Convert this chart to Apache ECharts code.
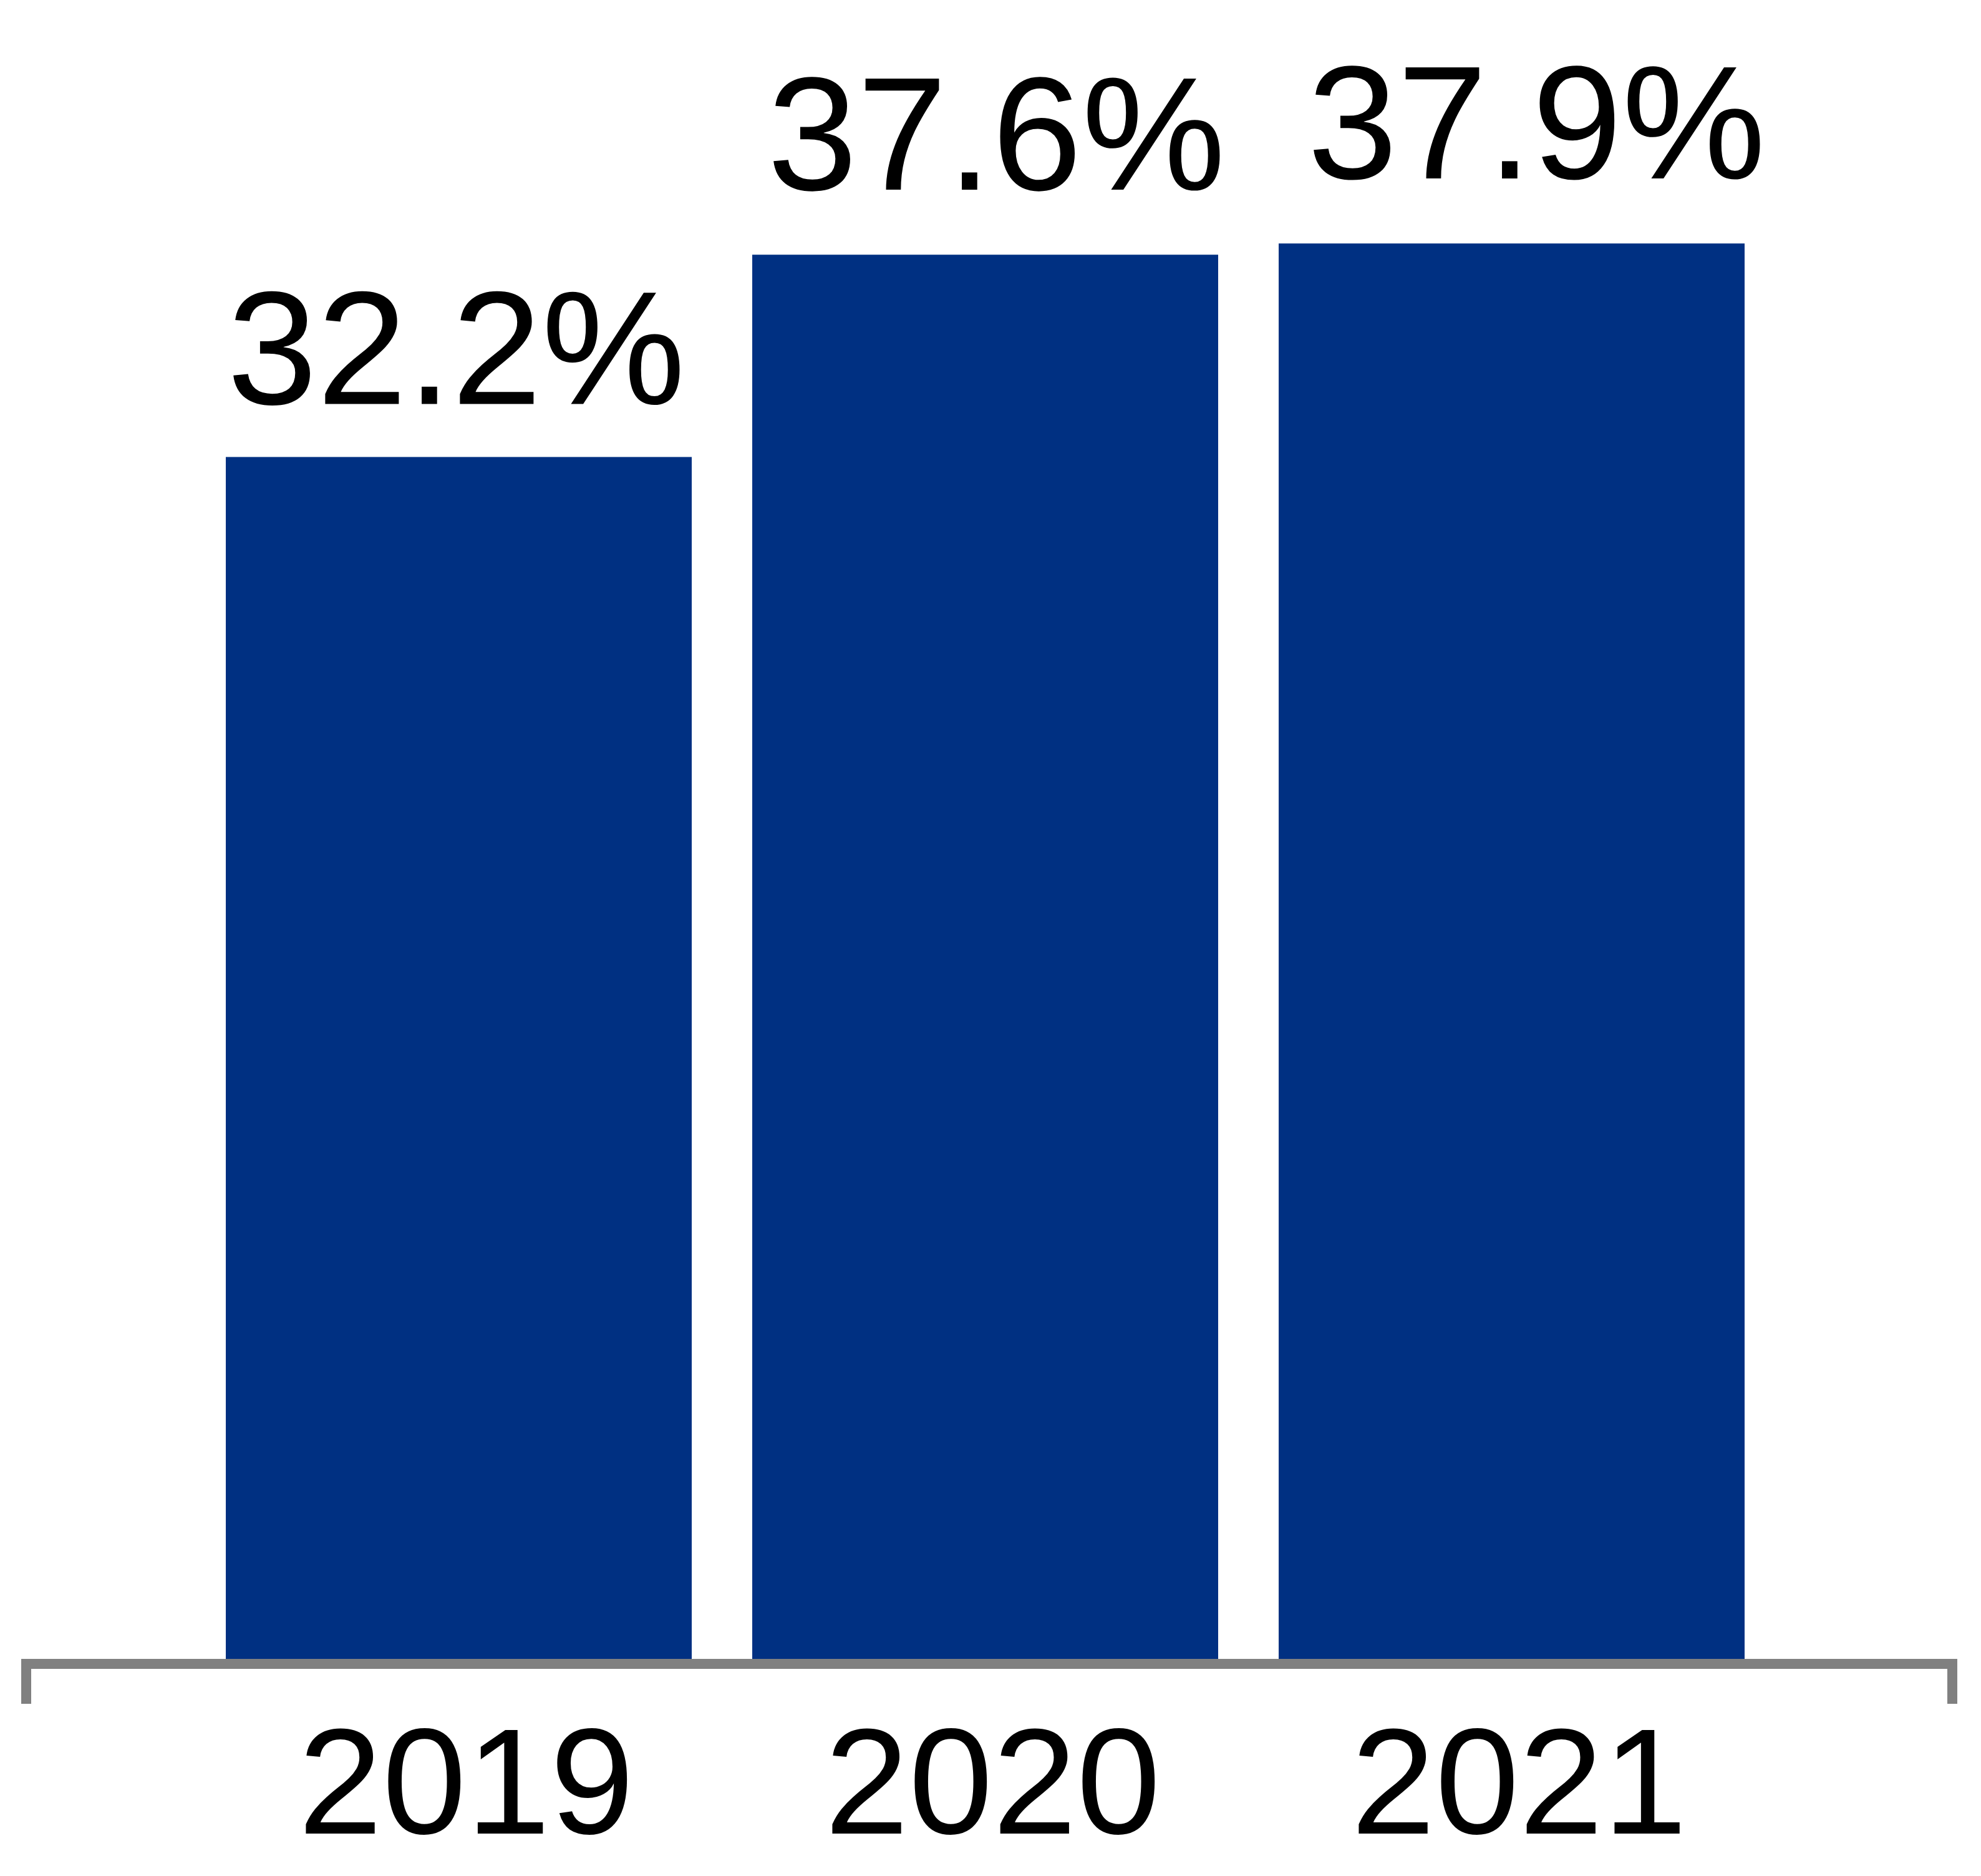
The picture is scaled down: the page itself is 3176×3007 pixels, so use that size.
<!DOCTYPE html>
<html>
<head>
<meta charset="utf-8">
<script src="https://cdn.jsdelivr.net/npm/echarts@6/dist/echarts.min.js"></script>
<style>
  html, body { margin: 0; padding: 0; background: #ffffff; }
  #chart { width: 3176px; height: 3007px; }
</style>
</head>
<body>
<div id="chart"></div>
<script>
const years = ['2019', '2020', '2021'];
const shares = [32.2, 37.6, 37.9];

const chart = echarts.init(document.getElementById('chart'), null, { renderer: 'canvas' });
const FONT = "'Liberation Sans', Arial, sans-serif";
const labelTweak = [
  { distance: 27, offset: [-4, 0] },
  { distance: 46, offset: [18, 0] },
  { distance: 46, offset: [40, 0] }
];

const option = {
  backgroundColor: '#ffffff',
  animation: false,
  grid: [
    { left: 313.5, right: 330.5, top: 264, bottom: 340, containLabel: false },
    { left: 42, right: 46, top: 264, bottom: 340, containLabel: false }
  ],
  xAxis: [
    {
      type: 'category', gridIndex: 0, data: years,
      axisLine: { show: false }, axisTick: { show: false },
      axisLabel: { fontSize: 242, lineHeight: 242, color: '#000000', fontFamily: FONT, margin: 84, padding: [0, 0, 0, 24] }
    },
    {
      type: 'value', gridIndex: 1, min: 0, max: 1, interval: 1, z: 5,
      axisLine: { show: true, lineStyle: { color: '#808080', width: 16, cap: 'square' } },
      axisTick: { show: true, length: 64, lineStyle: { color: '#808080', width: 16 } },
      axisLabel: { show: false }, splitLine: { show: false }
    }
  ],
  yAxis: [
    { type: 'value', gridIndex: 0, min: 0, max: 40, show: false, splitLine: { show: false } },
    { type: 'value', gridIndex: 1, min: 0, max: 40, show: false, splitLine: { show: false } }
  ],
  series: [
    {
      type: 'bar', xAxisIndex: 0, yAxisIndex: 0,
      barWidth: 747,
      itemStyle: { color: '#003082' },
      label: {
        show: true, position: 'top', color: '#000000', fontFamily: FONT,
        fontSize: 259, lineHeight: 259,
        formatter: p => p.value.toFixed(1) + '%'
      },
      data: shares.map((v, i) => ({ value: v, label: labelTweak[i] }))
    }
  ]
};
chart.setOption(option);
</script>
</body>
</html>
